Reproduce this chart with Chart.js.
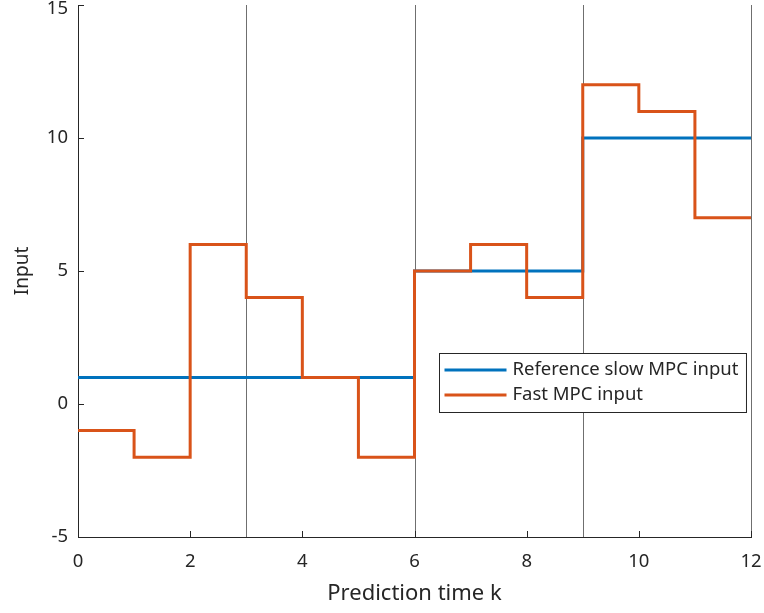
<!DOCTYPE html>
<html>
<head>
<meta charset="utf-8">
<script src="https://cdn.jsdelivr.net/npm/chart.js@4.4.1/dist/chart.umd.min.js"></script>
<style>
  html, body { margin: 0; padding: 0; background: #fff; }
  #wrap { width: 764px; height: 613px; }
</style>
</head>
<body>
<div id="wrap"><canvas id="inputChart" width="764" height="613"></canvas></div>
<script>
// prediction steps and the input held over each step
const timeK = [0, 1, 2, 3, 4, 5, 6, 7, 8, 9, 10, 11, 12];
const slowInput = [1, 1, 1, 1, 1, 1, 5, 5, 5, 10, 10, 10];
const fastInput = [-1, -2, 6, 4, 1, -2, 5, 6, 4, 12, 11, 7];
const slowSteps = [3, 6, 9, 12];
const xTicks = [0, 2, 4, 6, 8, 10, 12];
const yTicks = [-5, 0, 5, 10, 15];

const axisColor = "#262626";
const fontFamily = "'Noto Sans', 'DejaVu Sans', sans-serif";

// stairs: hold the last value until the final time step
function toStairs(values) {
  return timeK.map((k, i) => ({ x: k, y: values[Math.min(i, values.length - 1)] }));
}

const stairsPlugin = {
  id: "stairsDecor",
  beforeDatasetsDraw(chart) {
    const { ctx, chartArea, scales } = chart;
    ctx.save();
    ctx.strokeStyle = "#6f6f6f";
    ctx.lineWidth = 1;
    slowSteps.forEach(k => {
      const x = Math.round(scales.x.getPixelForValue(k)) + 0.5;
      ctx.beginPath();
      ctx.moveTo(x, chartArea.top);
      ctx.lineTo(x, chartArea.bottom);
      ctx.stroke();
    });

    // inward tick marks
    ctx.strokeStyle = axisColor;
    const len = 6;
    xTicks.forEach(v => {
      const x = Math.round(scales.x.getPixelForValue(v)) + 0.5;
      ctx.beginPath();
      ctx.moveTo(x, chartArea.bottom);
      ctx.lineTo(x, chartArea.bottom - len);
      ctx.stroke();
    });
    yTicks.forEach(v => {
      const y = Math.round(scales.y.getPixelForValue(v)) + 0.5;
      ctx.beginPath();
      ctx.moveTo(chartArea.left, y);
      ctx.lineTo(chartArea.left + len, y);
      ctx.stroke();
    });
    ctx.restore();
  },
  afterDraw(chart) {
    const { ctx, chartArea } = chart;
    const sets = chart.data.datasets;
    ctx.save();
    ctx.font = "18.5px " + fontFamily;
    const textW = Math.max(...sets.map(d => ctx.measureText(d.label).width));
    const sample = 62;
    const boxW = 5 + sample + 6 + textW + 8;
    const rowH = 25;
    const boxH = rowH * sets.length + 9;
    const right = chartArea.right - 5;
    const left = Math.round(right - boxW) + 0.5;
    const top = 353.5;

    ctx.fillStyle = "#fff";
    ctx.fillRect(left, top, boxW, boxH);
    ctx.strokeStyle = axisColor;
    ctx.lineWidth = 1;
    ctx.strokeRect(left, top, boxW, boxH);

    sets.forEach((d, i) => {
      const y = top + 16.5 + i * rowH;
      ctx.strokeStyle = d.borderColor;
      ctx.lineWidth = 3;
      ctx.beginPath();
      ctx.moveTo(left + 5, y);
      ctx.lineTo(left + 5 + sample, y);
      ctx.stroke();
      ctx.fillStyle = axisColor;
      ctx.textBaseline = "middle";
      ctx.fillText(d.label, left + 5 + sample + 6, y);
    });
    ctx.restore();
  }
};

const yMax = yTicks[yTicks.length - 1];

new Chart(document.getElementById("inputChart"), {
  type: "line",
  data: {
    datasets: [
      {
        label: "Reference slow MPC input",
        data: toStairs(slowInput),
        borderColor: "#0072BD",
        order: 1
      },
      {
        label: "Fast MPC input",
        data: toStairs(fastInput),
        borderColor: "#D95319",
        order: 0
      }
    ]
  },
  options: {
    responsive: false,
    animation: false,
    layout: { padding: { top: 5, right: 13, left: 0, bottom: 0 } },
    elements: {
      line: {
        stepped: "before",
        borderWidth: 3,
        borderJoinStyle: "miter",
        borderCapStyle: "butt",
        fill: false
      },
      point: { radius: 0 }
    },
    plugins: {
      legend: { display: false },
      tooltip: { enabled: false }
    },
    scales: {
      x: {
        type: "linear",
        min: 0,
        max: 12,
        afterFit: scale => {
          scale.height = 76;
          scale.paddingLeft = 0;
          scale.paddingRight = 0;
        },
        afterBuildTicks: scale => { scale.ticks = xTicks.map(v => ({ value: v })); },
        grid: { display: false, drawTicks: false },
        border: { display: true, color: axisColor, width: 1 },
        ticks: {
          color: axisColor,
          padding: 14,
          maxRotation: 0,
          font: { family: fontFamily, size: 18.5 }
        },
        title: {
          display: true,
          text: "Prediction time k",
          color: axisColor,
          padding: { top: 0, bottom: 6 },
          font: { family: fontFamily, size: 22 }
        }
      },
      y: {
        min: -5,
        max: 15,
        afterFit: scale => {
          scale.width = 78;
          scale.paddingTop = 0;
          scale.paddingBottom = 0;
        },
        afterBuildTicks: scale => { scale.ticks = yTicks.map(v => ({ value: v })); },
        grid: { display: false, drawTicks: false },
        border: { display: true, color: axisColor, width: 1 },
        ticks: {
          color: axisColor,
          padding: 10,
          // top label sits a little lower so it stays inside the canvas
          callback: v => (v === yMax ? ["", String(v)] : String(v)),
          font: c => ({
            family: fontFamily,
            size: 18.5,
            lineHeight: c.tick && c.tick.value === yMax ? "8px" : 1.2
          })
        },
        title: {
          display: true,
          text: "Input",
          color: axisColor,
          padding: { top: 11, bottom: 0 },
          font: { family: fontFamily, size: 19 }
        }
      }
    }
  },
  plugins: [stairsPlugin]
});
</script>
</body>
</html>
